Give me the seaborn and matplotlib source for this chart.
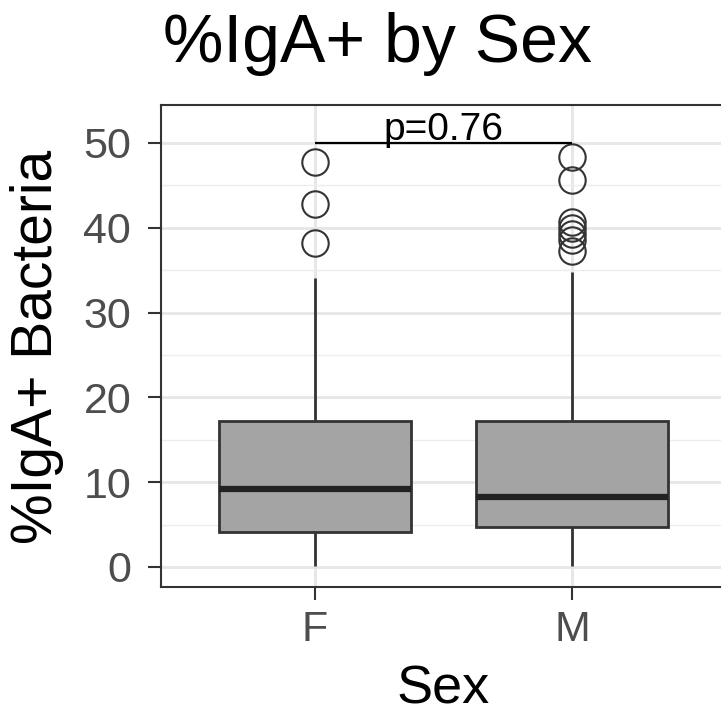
import matplotlib
matplotlib.use("Agg")
import matplotlib.pyplot as plt
import seaborn as sns
import pandas as pd
import numpy as np
from matplotlib.ticker import MultipleLocator

# ---- data ----
categories = ["F", "M"]
female_values = [0.15, 1.2, 2.3, 3.2, 4.1, 5.2, 6.6, 8.0, 9.2, 10.8, 12.6, 15.0,
                 17.2, 34.1, 38.2, 42.8, 47.8]
male_values = [0.15, 0.8, 1.5, 2.1, 2.8, 3.3, 3.8, 4.3, 4.7,
               5.1, 5.6, 6.0, 6.5, 7.0, 7.4, 7.9, 8.25,
               9.0, 10.1, 11.3, 12.6, 13.9, 15.2, 16.4, 17.2,
               34.8, 37.3, 38.6, 39.3, 40.0, 40.7, 45.6, 48.4]
p_label = "p=0.76"
bracket_y = 50
title = "%IgA+ by Sex"
x_label = "Sex"
y_label = "%IgA+ Bacteria"

df = pd.DataFrame({
    "Sex": ["F"] * len(female_values) + ["M"] * len(male_values),
    "value": female_values + male_values,
})

sns.set_theme(style="white")
plt.rcParams["font.family"] = ["Liberation Sans", "DejaVu Sans"]

W, H = 721, 715
fig = plt.figure(figsize=(W / 100, H / 100), dpi=100)
left_px, right_px, top_px, bottom_px = 161, 726, 105, 587
ax = fig.add_axes([left_px / W, 1 - bottom_px / H,
                   (right_px - left_px) / W, (bottom_px - top_px) / H])

ax.set_facecolor("white")
ax.set_axisbelow(True)

sns.boxplot(data=df, x="Sex", y="value", order=categories, ax=ax,
            color="#A4A4A4", saturation=1, width=0.75,
            linecolor="#333333", linewidth=2.0, fliersize=19,
            showcaps=False,
            flierprops=dict(marker="o", markerfacecolor="none",
                            markeredgecolor="#333333", markeredgewidth=1.5,
                            markersize=19),
            medianprops=dict(color="#222222", linewidth=4.5))

# y scale
ax.set_ylim(-2.36, 54.48)
ax.set_xlim(-0.6, 1.6)
ax.yaxis.set_major_locator(MultipleLocator(10))
ax.yaxis.set_minor_locator(MultipleLocator(5))

ax.grid(True, which="major", axis="both", color="#E6E6E6", linewidth=2.0, zorder=0)
ax.grid(True, which="minor", axis="y", color="#EDEDED", linewidth=1.0, zorder=0)

for s in ax.spines.values():
    s.set_color("#333333")
    s.set_linewidth(1.5)
    s.set_visible(True)

ax.tick_params(axis="both", which="major", length=9.5, width=1.5,
               color="#333333", labelcolor="#4D4D4D", labelsize=31,
               left=True, bottom=True)
ax.tick_params(axis="y", which="major", pad=12)
ax.tick_params(axis="x", which="major", pad=7)
ax.tick_params(which="minor", length=0)
ax.set_xlabel("")
ax.set_ylabel("")

# significance bracket
ax.plot([0, 1], [bracket_y, bracket_y], color="black", linewidth=1.6, zorder=5,
        solid_capstyle="butt")
ax.text(0.5, 50.35, p_label, ha="center", va="baseline", fontsize=28,
        color="black", zorder=6)

# titles / labels
fig.text(163 / W, 1 - 62 / H, title, ha="left", va="baseline", fontsize=49, color="black")
fig.text(443.5 / W, 1 - 704 / H, x_label, ha="center", va="baseline", fontsize=39, color="black")
fig.text(37 / W, 1 - 346.5 / H, y_label, ha="center", va="center", rotation=90,
         fontsize=41, color="black")

fig.savefig("out.png", dpi=100, facecolor="white")
